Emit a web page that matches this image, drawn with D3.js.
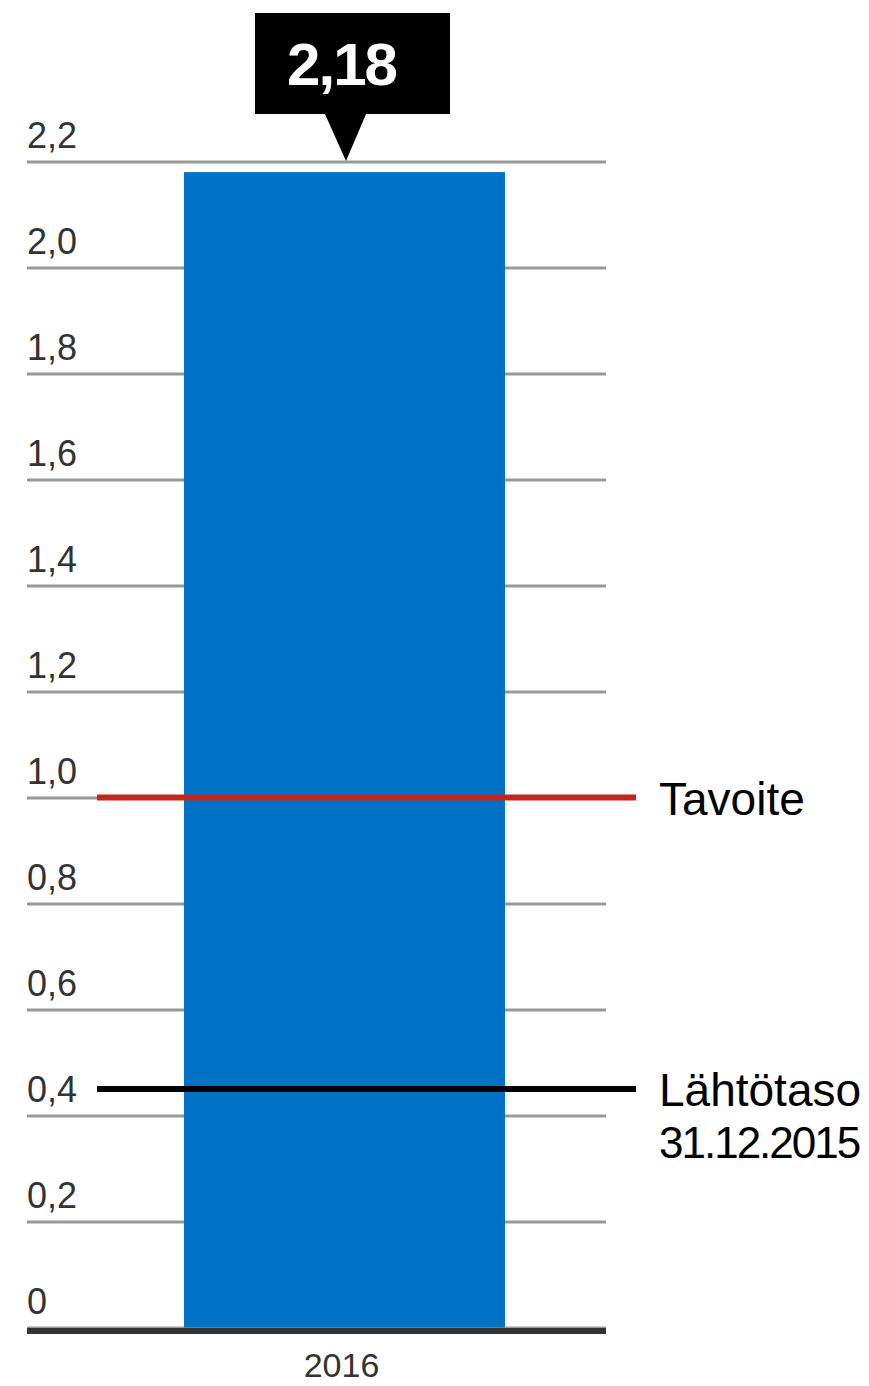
<!DOCTYPE html>
<html>
<head>
<meta charset="utf-8">
<script src="https://cdn.jsdelivr.net/npm/d3@7"></script>
<style>
  html, body { margin: 0; padding: 0; background: #fff; }
  svg { display: block; }
  text { font-family: "Liberation Sans", Arial, sans-serif; }
</style>
</head>
<body>
<svg id="chart" width="869" height="1386"></svg>
<script>
// Bar data
const categories = ["2016"];
const values = [2.18];
const valueLabels = ["2,18"];

// Reference levels
const refValues = [1.0, 0.45];
const refLabels = [["Tavoite"], ["Lähtötaso", "31.12.2015"]];
const refColors = ["#c0281e", "#000000"];

// Y axis ticks
const yTicks = [0, 0.2, 0.4, 0.6, 0.8, 1.0, 1.2, 1.4, 1.6, 1.8, 2.0, 2.2];
const yTickLabels = ["0", "0,2", "0,4", "0,6", "0,8", "1,0", "1,2", "1,4", "1,6", "1,8", "2,0", "2,2"];

const svg = d3.select("#chart");

const gridLeft = 27, gridRight = 606;
const y = d3.scaleLinear().domain([0, 2.2]).range([1327.5, 161.5]);
const x = d3.scaleBand().domain(categories).range([184, 505]).padding(0);

// Gridlines and tick labels
const yAxis = d3.axisRight(y)
  .tickValues(yTicks)
  .tickSize(gridRight - gridLeft)
  .tickFormat((d, i) => yTickLabels[i]);

const gAxis = svg.append("g")
  .attr("transform", `translate(${gridLeft},0)`)
  .call(yAxis);
gAxis.select(".domain").remove();
gAxis.selectAll(".tick line")
  .attr("stroke", "#999")
  .attr("stroke-width", 3);
gAxis.selectAll(".tick text")
  .attr("x", 0)
  .attr("dy", -14)
  .attr("text-anchor", "start")
  .attr("fill", "#333")
  .style("font-size", "36px");

// Bars
svg.append("g").selectAll("rect")
  .data(values)
  .join("rect")
  .attr("x", (d, i) => x(categories[i]))
  .attr("y", d => y(d))
  .attr("width", x.bandwidth())
  .attr("height", d => y(0) - y(d))
  .attr("fill", "#0072c6");

// Reference lines with labels
const refG = svg.append("g");
refValues.forEach((v, i) => {
  refG.append("line")
    .attr("x1", 97).attr("x2", 636)
    .attr("y1", y(v)).attr("y2", y(v))
    .attr("stroke", refColors[i])
    .attr("stroke-width", 6);
  refLabels[i].forEach((line, j) => {
    const numeric = /^[\d.]+$/.test(line);
    refG.append("text")
      .attr("x", 659)
      .attr("y", y(v) + 17 + j * 52)
      .attr("fill", "#000")
      .attr("letter-spacing", numeric ? "-2" : "0")
      .style("font-size", numeric ? "44px" : "46px")
      .text(line);
  });
});

// Baseline
svg.append("line")
  .attr("x1", gridLeft).attr("x2", gridRight)
  .attr("y1", y(0) + 3.5).attr("y2", y(0) + 3.5)
  .attr("stroke", "#333")
  .attr("stroke-width", 6);

// Category labels
svg.append("g").selectAll("text")
  .data(categories)
  .join("text")
  .attr("x", d => x(d) + x.bandwidth() / 2 - 3)
  .attr("y", 1377)
  .attr("text-anchor", "middle")
  .attr("fill", "#333")
  .style("font-size", "34px")
  .text(d => d);

// Value callout above the bar
values.forEach((v, i) => {
  const cx = x(categories[i]) + x.bandwidth() / 2;
  const g = svg.append("g");
  g.append("rect")
    .attr("x", cx - 89.5).attr("y", 13)
    .attr("width", 195).attr("height", 101)
    .attr("fill", "#000");
  g.append("path")
    .attr("d", `M${cx - 20},113 L${cx + 22},113 L${cx + 1.5},${y(v) - 11} Z`)
    .attr("fill", "#000");
  g.append("text")
    .attr("x", cx - 3)
    .attr("y", 85)
    .attr("text-anchor", "middle")
    .attr("fill", "#fff")
    .attr("font-weight", "bold")
    .attr("letter-spacing", "-2")
    .style("font-size", "60px")
    .text(valueLabels[i]);
});
</script>
</body>
</html>
